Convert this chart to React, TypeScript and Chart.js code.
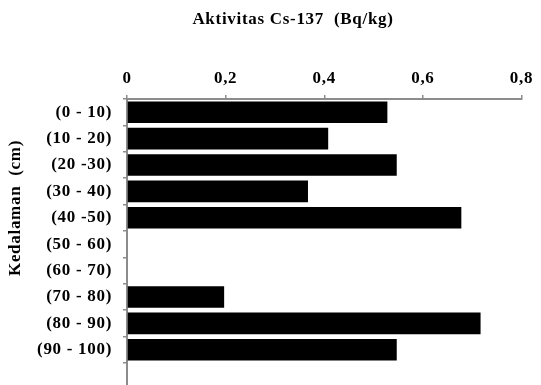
import { useEffect, useRef } from "react";
import { Chart, registerables } from "chart.js";

Chart.register(...registerables);

// ---- data ----
const categories = [
  "(0 - 10)",
  "(10 - 20)",
  "(20 -30)",
  "(30 - 40)",
  "(40 -50)",
  "(50 - 60)",
  "(60 - 70)",
  "(70 - 80)",
  "(80 - 90)",
  "(90 - 100)",
  "",
];
const activity: (number | null)[] = [0.528, 0.408, 0.547, 0.367, 0.678, null, null, 0.197, 0.717, 0.547, null];
const xTickValues = [0, 0.2, 0.4, 0.6, 0.8];
const xTickLabels = ["0", "0,2", "0,4", "0,6", "0,8"];
const chartTitle = "Aktivitas Cs-137  (Bq/kg)";
const yAxisTitle = "Kedalaman  (cm)";

const FONT_FAMILY = "'Liberation Serif', 'Times New Roman', serif";
const FONT_SIZE = 17;
const LETTER_SPACING = "0.7px";
const AXIS_COLOR = "#8c8c8c";

const textPlugin = {
  id: "extraTexts",
  beforeLayout(chart: any) {
    chart.ctx.letterSpacing = LETTER_SPACING;
  },
  beforeDraw(chart: any) {
    chart.ctx.letterSpacing = LETTER_SPACING;
  },
  afterDraw(chart: any) {
    const ctx = chart.ctx;
    ctx.save();
    ctx.letterSpacing = LETTER_SPACING;
    ctx.font = `bold ${FONT_SIZE}px ${FONT_FAMILY}`;
    ctx.fillStyle = "#000";
    ctx.textAlign = "center";
    ctx.textBaseline = "middle";
    ctx.fillText(chartTitle, 293, 20);
    ctx.translate(16, 208);
    ctx.rotate(-Math.PI / 2);
    ctx.fillText(yAxisTitle, 0, 0);
    ctx.restore();
  },
};

export default function App() {
  const ref = useRef<HTMLCanvasElement | null>(null);

  useEffect(() => {
    document.body.style.margin = "0";
    const canvas = ref.current;
    if (!canvas) return;
    const font = { family: FONT_FAMILY, size: FONT_SIZE, weight: "bold" as const };
    const chart = new Chart(canvas, {
      type: "bar",
      data: {
        labels: categories,
        datasets: [
          {
            data: activity,
            backgroundColor: "#000",
            borderWidth: 0,
            barPercentage: 0.82,
            categoryPercentage: 1,
          },
        ],
      },
      options: {
        indexAxis: "y",
        animation: false,
        responsive: false,
        devicePixelRatio: 1,
        layout: { padding: { top: 0, left: 0, right: 19.5, bottom: 0.6 } },
        plugins: {
          legend: { display: false },
          tooltip: { enabled: false },
          title: { display: false },
        },
        scales: {
          x: {
            type: "linear",
            position: "top",
            min: 0,
            max: 0.8,
            afterBuildTicks: (s: any) => {
              s.ticks = xTickValues.map((v) => ({ value: v }));
            },
            ticks: {
              padding: 6,
              font,
              color: "#000",
              callback: (_v: any, i: number) => xTickLabels[i],
            },
            grid: {
              drawOnChartArea: false,
              drawTicks: true,
              tickLength: 4,
              color: AXIS_COLOR,
              lineWidth: 1.5,
            },
            border: { display: true, color: AXIS_COLOR, width: 2 },
            afterFit: (s: any) => {
              s.height = 99;
              s.paddingLeft = 0;
              s.paddingRight = 0;
            },
          },
          y: {
            type: "category",
            position: "left",
            ticks: { padding: 11, font, color: "#000", autoSkip: false },
            grid: {
              drawOnChartArea: false,
              tickLength: 4,
              color: AXIS_COLOR,
              lineWidth: 1.5,
              offset: true,
            },
            border: { display: true, color: AXIS_COLOR, width: 2 },
            afterFit: (s: any) => {
              s.width = 127;
              s.paddingTop = 0;
              s.paddingBottom = 0;
            },
          },
        },
      },
      plugins: [textPlugin],
    } as any);
    return () => chart.destroy();
  }, []);

  return (
    <div style={{ width: 541, height: 385, overflow: "hidden", position: "relative", background: "#fff" }}>
      <canvas ref={ref} width={541} height={390} />
    </div>
  );
}
